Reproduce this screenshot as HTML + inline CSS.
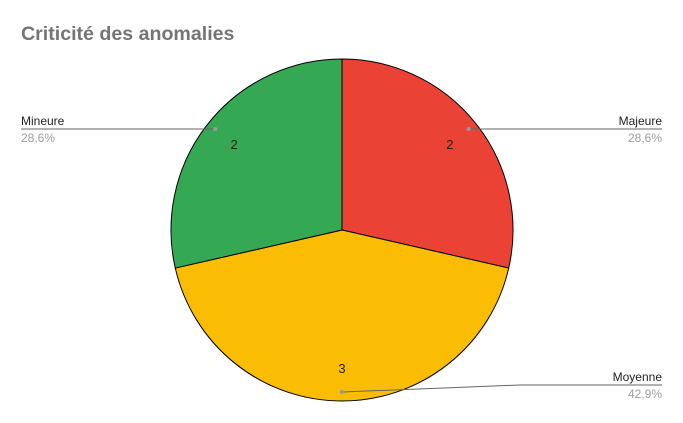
<!DOCTYPE html>
<html><head><meta charset="utf-8"><style>
body{margin:0;background:#fff;}
svg{display:block;font-family:"Liberation Sans",Arial,sans-serif;}
</style></head><body>
<svg id="chart" width="683" height="423" viewBox="0 0 683 423">
<rect width="683" height="423" fill="#fff"/>
<text x="21" y="40" font-size="19.6" font-weight="bold" fill="#757575">Criticité des anomalies</text>
<g id="slices"></g>
<g id="labels"></g>
</svg>
<script>
const categories = ["Majeure", "Moyenne", "Mineure"];
const values = [2, 3, 2];
const colors = ["#ea4335", "#fbbc04", "#34a853"];
const cx = 342, cy = 230, r = 171;
const NS = "http://www.w3.org/2000/svg";
const slicesG = document.getElementById("slices");
const labelsG = document.getElementById("labels");
const total = values.reduce((a, b) => a + b, 0);
function pt(a, rad) { return [cx + rad * Math.sin(a), cy - rad * Math.cos(a)]; }
function mk(tag, attrs, parent) {
  const e = document.createElementNS(NS, tag);
  for (const k in attrs) e.setAttribute(k, attrs[k]);
  parent.appendChild(e);
  return e;
}
let acc = 0;
values.forEach((v, i) => {
  const a0 = acc / total * 2 * Math.PI;
  acc += v;
  const a1 = acc / total * 2 * Math.PI;
  const p0 = pt(a0, r), p1 = pt(a1, r);
  const large = (a1 - a0) > Math.PI ? 1 : 0;
  const path = mk("path", { d: `M${cx},${cy} L${p0[0]},${p0[1]} A${r},${r} 0 ${large} 1 ${p1[0]},${p1[1]} Z`, fill: colors[i], stroke: "#000", "stroke-width": 1 }, slicesG);
  
  
  const am = (a0 + a1) / 2;
  const vp = pt(am, 138);
  const vt = mk("text", { x: vp[0], y: vp[1] + 5, "font-size": 13, "text-anchor": "middle", fill: "#222" }, labelsG);
  vt.textContent = v;
  
  
  const dp = pt(am, 162);
  const right = Math.sin(am) >= -0.01;
  const ly = Math.abs(Math.cos(am)) > 0.99 ? dp[1] - 7 : dp[1];
  const ex = right ? 662 : 21;
  let d = `M${dp[0]},${dp[1]} `;
  if (ly !== dp[1]) d += `L${dp[0] + 178},${ly} `;
  d += `L${ex},${ly}`;
  const ln = mk("path", { d: d, fill: "none", stroke: "#666", "stroke-width": 1 }, labelsG);
  
  
  const dot = mk("circle", { cx: dp[0], cy: dp[1], r: 2, fill: "#999" }, labelsG);
  
  
  const anchor = right ? "end" : "start";
  const nt = mk("text", { x: ex, y: ly - 4, "font-size": 12, "text-anchor": anchor, fill: "#222" }, labelsG);
  nt.textContent = categories[i];
  
  
  const pctT = mk("text", { x: ex, y: ly + 13, "font-size": 12, "text-anchor": anchor, fill: "#9e9e9e" }, labelsG);
  pctT.textContent = (v / total * 100).toFixed(1).replace(".", ",") + "%";
  
  
});
</script>
</body></html>
